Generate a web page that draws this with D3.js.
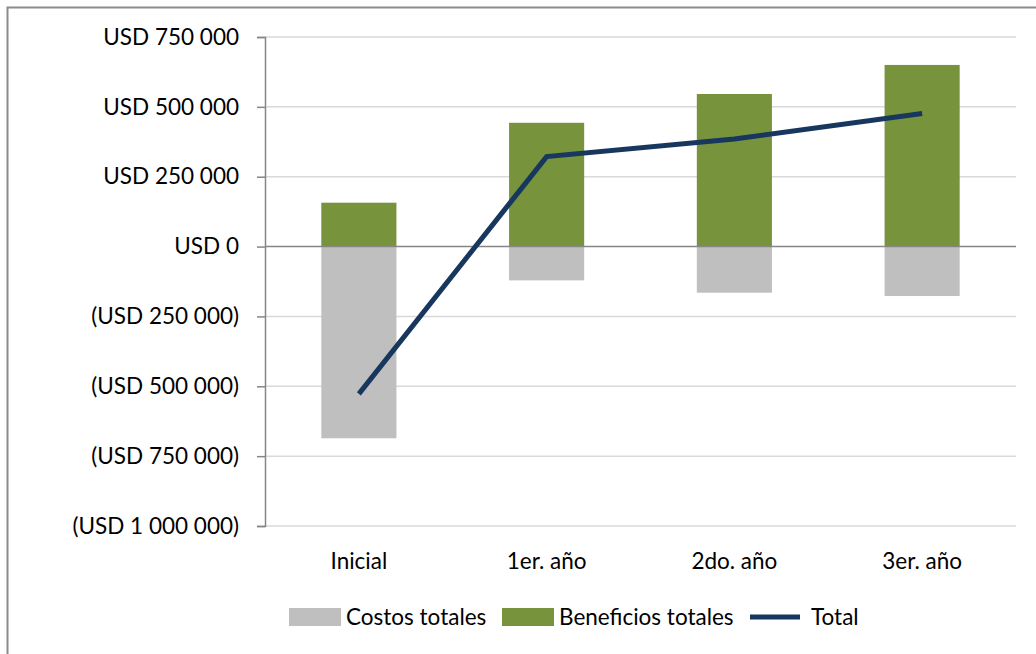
<!DOCTYPE html>
<html lang="es">
<head>
<meta charset="UTF-8">
<title>Costos y beneficios</title>
<script src="https://cdn.jsdelivr.net/npm/d3@7"></script>
<style>
    body { margin: 0; background: #fff; }
    text { font-family: Lato, "Open Sans", sans-serif; fill: #000; }
</style>
</head>
<body>
<script>
    const categories = ["Inicial", "1er. año", "2do. año", "3er. año"];
    const costos     = [-686000, -121000, -165000, -177000];
    const beneficios = [157000, 443000, 546000, 650000];
    const total      = [-527000, 322000, 385000, 476000];
    const yTicks     = [750000, 500000, 250000, 0, -250000, -500000, -750000, -1000000];

    const width = 1036, height = 654;
    const margin = {left: 265, right: 20, top: 37, bottom: 128};
    const fontSize = 22.5;

    const svg = d3.select("body").append("svg")
        .attr("width", width).attr("height", height);

    // outer frame (only top and left edges visible)
    svg.append("path")
        .attr("d", `M7.5,${height} V7.5 H${width}`)
        .attr("fill", "none").attr("stroke", "#8c8c8c").attr("stroke-width", 2);

    const x = d3.scaleBand().domain(categories)
        .range([margin.left, width - margin.right]).paddingInner(0.6).paddingOuter(0.3);
    const y = d3.scaleLinear().domain([-1000000, 750000])
        .range([height - margin.bottom, margin.top]);

    const fmt = v => {
        const s = "USD " + d3.format(",")(Math.abs(v)).replace(/,/g, " ");
        return v < 0 ? "(" + s + ")" : s;
    };

    // gridlines
    svg.append("g").selectAll("line").data(yTicks.filter(d => d !== 0)).join("line")
        .attr("x1", margin.left).attr("x2", width - margin.right)
        .attr("y1", d => y(d)).attr("y2", d => y(d))
        .attr("stroke", "#d9d9d9").attr("stroke-width", 1.5);

    // y axis
    const yAxis = svg.append("g")
        .attr("transform", `translate(${margin.left},0)`)
        .call(d3.axisLeft(y).tickValues(yTicks).tickFormat(fmt).tickSize(8).tickPadding(18));
    yAxis.select(".domain").attr("stroke", "#868686").attr("stroke-width", 1.5);
    yAxis.selectAll(".tick line").attr("stroke", "#868686").attr("stroke-width", 1.5);
    yAxis.selectAll(".tick text").attr("font-size", fontSize).attr("font-family", "Lato, sans-serif");

    // bars
    const bars = (vals, color) => svg.append("g").selectAll("rect").data(vals).join("rect")
        .attr("x", (d, i) => x(categories[i]))
        .attr("width", x.bandwidth())
        .attr("y", d => y(Math.max(0, d)))
        .attr("height", d => Math.abs(y(d) - y(0)))
        .attr("fill", color);
    bars(costos, "#bfbfbf");
    bars(beneficios, "#77933c");

    // zero line
    svg.append("line")
        .attr("x1", margin.left).attr("x2", width - margin.right)
        .attr("y1", y(0)).attr("y2", y(0))
        .attr("stroke", "#868686").attr("stroke-width", 1.5);

    // total line
    const line = d3.line()
        .x((d, i) => x(categories[i]) + x.bandwidth() / 2)
        .y(d => y(d));
    svg.append("path").datum(total)
        .attr("d", line)
        .attr("fill", "none").attr("stroke", "#17375e").attr("stroke-width", 5);

    // category labels
    svg.append("g").selectAll("text").data(categories).join("text")
        .attr("x", d => x(d) + x.bandwidth() / 2)
        .attr("y", 569)
        .attr("text-anchor", "middle")
        .attr("font-size", fontSize)
        .text(d => d);

    // legend
    const legend = [
        {label: "Costos totales", color: "#bfbfbf", type: "rect", x: 289},
        {label: "Beneficios totales", color: "#77933c", type: "rect", x: 502},
        {label: "Total", color: "#17375e", type: "line", x: 750}
    ];
    const lg = svg.append("g").selectAll("g").data(legend).join("g")
        .attr("transform", d => `translate(${d.x},617)`);
    lg.filter(d => d.type === "rect").append("rect")
        .attr("x", 0).attr("y", -9).attr("width", 52).attr("height", 18)
        .attr("fill", d => d.color);
    lg.filter(d => d.type === "line").append("line")
        .attr("x1", 0).attr("x2", 50).attr("y1", 0).attr("y2", 0)
        .attr("stroke", d => d.color).attr("stroke-width", 5);
    lg.append("text")
        .attr("x", d => d.type === "line" ? 61 : 57)
        .attr("y", 8)
        .attr("font-size", fontSize)
        .text(d => d.label);
</script>
</body>
</html>
